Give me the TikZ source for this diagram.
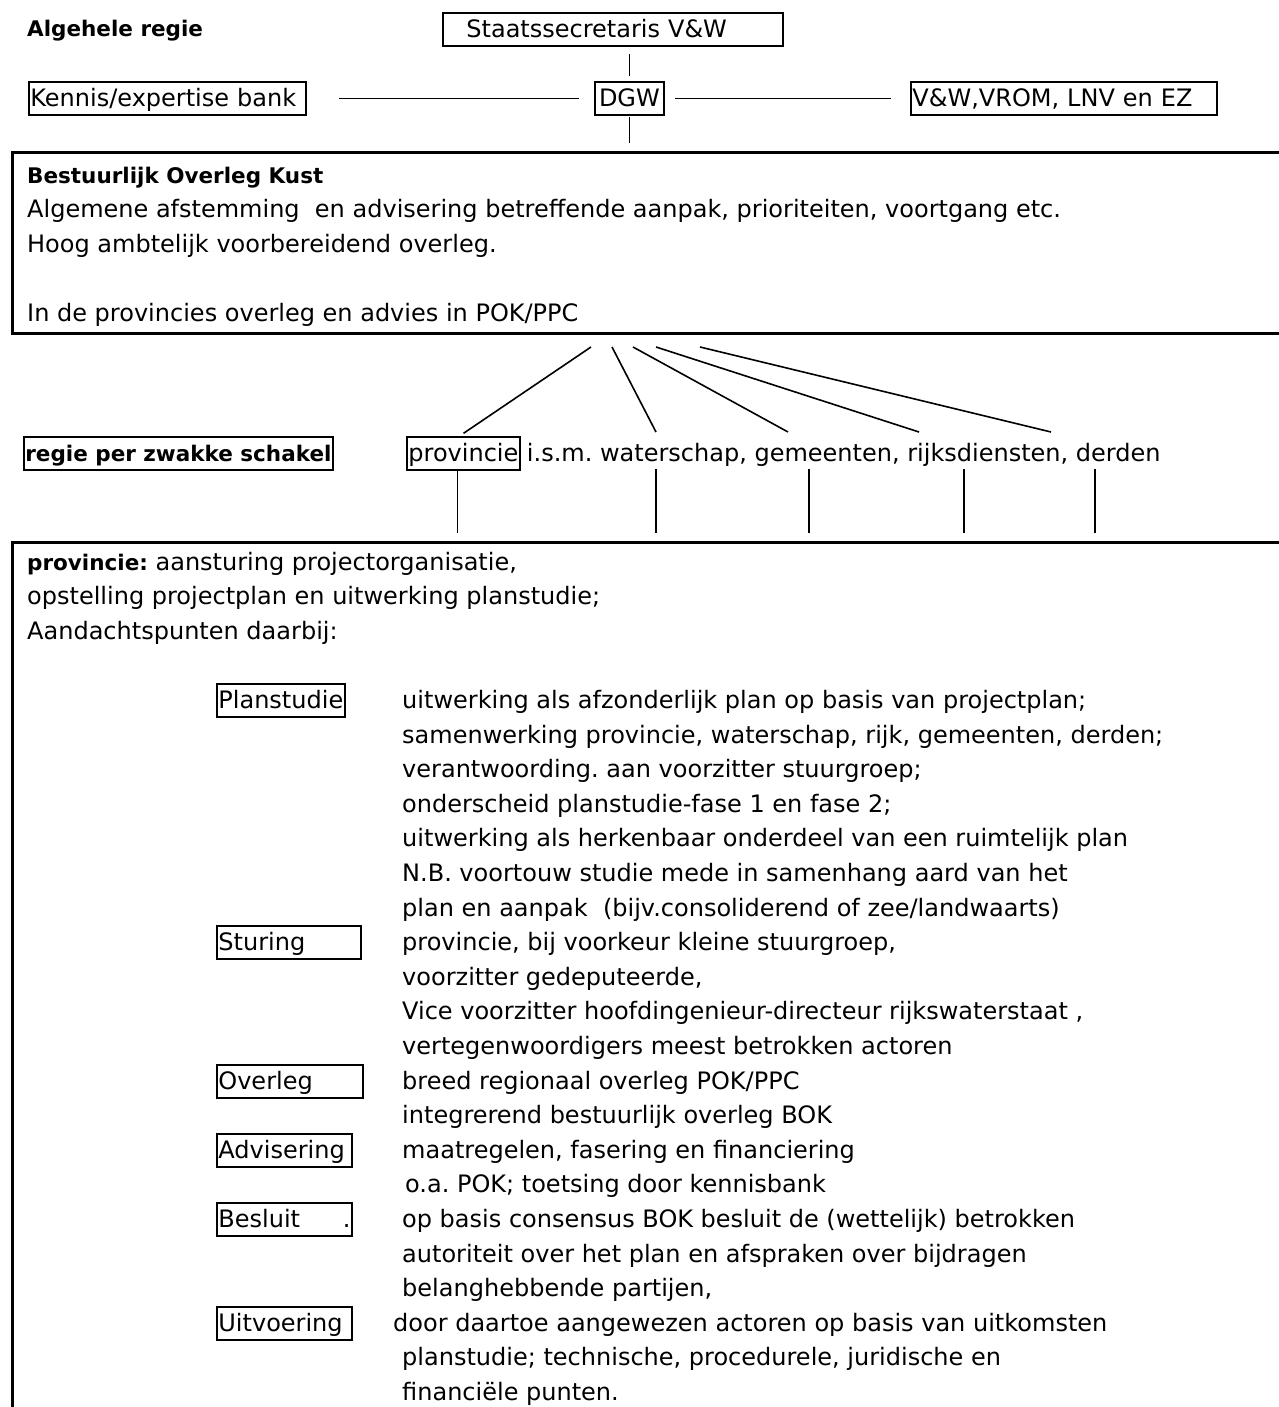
\documentclass[tikz,border=0pt]{standalone}
\usepackage{fontspec}
\setmainfont{DejaVu Sans}
\frenchspacing
\usetikzlibrary{positioning}
\newcommand{\vet}[1]{{\fontsize{21.5}{34.6}\selectfont\bfseries #1}}

\begin{document}
\begin{tikzpicture}[x=1pt, y=-1pt,
    text_style/.style={font=\fontsize{24}{34.6}\selectfont, inner sep=0pt, anchor=base west},
    box_style/.style={draw, line width=1.8pt, font=\fontsize{24}{34.6}\selectfont, inner xsep=1.5pt, inner ysep=2pt, text height=22.5pt, text depth=6.5pt, anchor=base west},
    frame_style/.style={draw, line width=2.6pt, inner sep=0pt, anchor=north west, minimum width=1300pt},
    line_style/.style={line width=1.6pt}
]
    % Fix the page
    \useasboundingbox (0,0) rectangle (1278,1407);

    % Frames (open to the right and bottom)
    \node[frame_style, minimum height=181pt] (bok) at (11,151) {};
    \node[frame_style, minimum height=900pt] (pok) at (11,541) {};

    % Top row
    \node[text_style] (algehele) at (27,37) {\vet{Algehele regie}};
    \node[box_style, text width=337pt, align=left] (staats) at (442,37.5) {\hspace*{22pt}Staatssecretaris V\&W};
    \node[box_style, text width=274pt, align=left] (kennis) at (28,106.5) {Kennis/expertise bank};
    \node[box_style, minimum width=69pt] (dgw) at (594,106.5) {DGW};
    \node[box_style, text width=303pt, align=left] (vw) at (910,106.5) {V\&W,VROM, LNV en EZ};

    % Connect the top row
    \draw[line_style, shorten <=7pt, shorten >=5pt] (dgw.north |- staats.south) -- (dgw.north);
    \draw[line_style, shorten <=32pt, shorten >=15pt] (kennis.east) -- (dgw.west);
    \draw[line_style, shorten <=10pt, shorten >=19pt] (dgw.east) -- (vw.west);
    \draw[line_style, shorten <=1pt, shorten >=8pt] (dgw.south) -- (dgw.south |- bok.north);

    % Bestuurlijk Overleg Kust
    \node[text_style] (bok_titel) at (27,183) {\vet{Bestuurlijk Overleg Kust}};
    \node[text_style] (bok_1) at (27,217.5) {Algemene afstemming\ \ en advisering betreffende aanpak, prioriteiten, voortgang etc.};
    \node[text_style] (bok_2) at (27,252) {Hoog ambtelijk voorbereidend overleg.};
    \node[text_style] (bok_3) at (27,321) {In de provincies overleg en advies in POK/PPC};

    % Regie per zwakke schakel
    \node[box_style] (regie) at (23,461.5) {\vet{regie per zwakke schakel}};
    \node[box_style] (prov) at (406,461.5) {provincie};
    \node[text_style, base right=6pt of prov] (actoren) {i.s.m. waterschap, gemeenten, rijksdiensten, derden};

    % Fan from the overleg down to the actors
    \draw[line_style, shorten >=5pt] (591,347) coordinate (fan_top_1) -- ([xshift=-4pt]prov.north);
    \foreach \a/\b [count=\i from 2] in {612/656, 633/788, 656/919, 700/1051} {
        \coordinate (fan_top_\i) at (\a,347);
        \coordinate (fan_end_\i) at (\b,432);
        \draw[line_style] (fan_top_\i) -- (fan_end_\i);
    }

    % Lines down to the provincie frame
    \draw[line_style, shorten >=8pt] ([xshift=-6pt]prov.south) -- ([xshift=-6pt]prov.south |- pok.north);
    \foreach \x [count=\i] in {656,809,964,1095} {
        \coordinate (actor_\i) at (\x,469);
        \draw[line_style, shorten >=8pt] (actor_\i) -- (actor_\i |- pok.north);
    }

    % Provincie frame
    \node[text_style] (pok_1) at (27,570.1) {\vet{provincie:} aansturing projectorganisatie,};
    \node[text_style] (pok_2) at (27,604.7) {opstelling projectplan en uitwerking planstudie;};
    \node[text_style] (pok_3) at (27,639.3) {Aandachtspunten daarbij:};

    % Points of attention
    \node[box_style] (planstudie) at (216,708.5) {Planstudie};
    \node[box_style, text width=141pt, align=left] (sturing) at (216,950.7) {Sturing};
    \node[box_style, text width=143pt, align=left] (overleg) at (216,1089.1) {Overleg};
    \node[box_style, text width=132pt, align=left] (advisering) at (216,1158.3) {Advisering};
    \node[box_style, text width=132pt, align=left] (besluit) at (216,1227.5) {Besluit\hspace{\fill}.};
    \node[box_style, text width=132pt, align=left] (uitvoering) at (216,1331.3) {Uitvoering};

    % Their explanation, one line each
    \foreach \regel [count=\k from 0] in {
        {uitwerking als afzonderlijk plan op basis van projectplan;},
        {samenwerking provincie, waterschap, rijk, gemeenten, derden;},
        {verantwoording. aan voorzitter stuurgroep;},
        {onderscheid planstudie-fase 1 en fase 2;},
        {uitwerking als herkenbaar onderdeel van een ruimtelijk plan},
        {N.B. voortouw studie mede in samenhang aard van het},
        {plan en aanpak\ \ (bijv.consoliderend of zee/landwaarts)},
        {provincie, bij voorkeur kleine stuurgroep,},
        {voorzitter gedeputeerde,},
        {Vice voorzitter hoofdingenieur-directeur rijkswaterstaat ,},
        {vertegenwoordigers meest betrokken actoren},
        {breed regionaal overleg POK/PPC},
        {integrerend bestuurlijk overleg BOK},
        {maatregelen, fasering en financiering},
        {\hspace*{3pt}o.a. POK; toetsing door kennisbank},
        {op basis consensus BOK besluit de (wettelijk) betrokken},
        {autoriteit over het plan en afspraken over bijdragen},
        {belanghebbende partijen,},
        {\hspace*{-9pt}door daartoe aangewezen actoren op basis van uitkomsten},
        {planstudie; technische, procedurele, juridische en},
        {financiële punten.}}
        \node[text_style] (regel_\k) at (402,708.5+34.6*\k) {\regel};

\end{tikzpicture}
\end{document}
